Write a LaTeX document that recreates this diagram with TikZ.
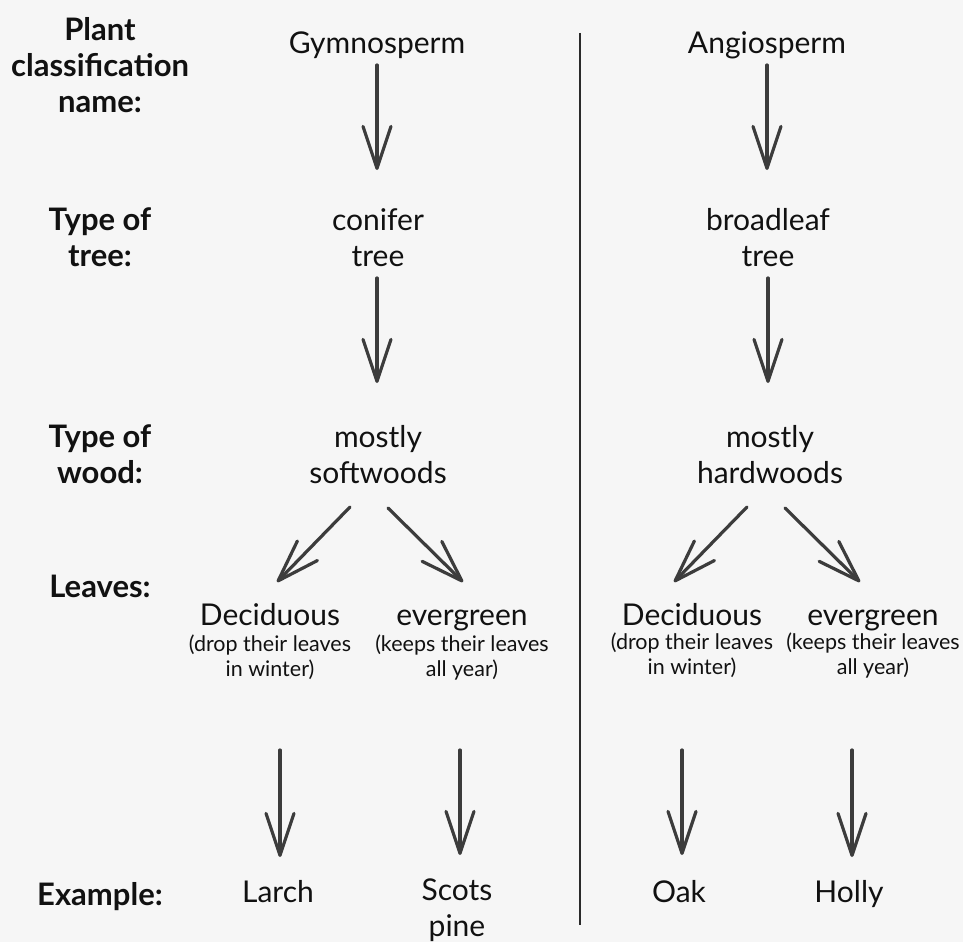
\documentclass[tikz,border=0pt]{standalone}
\usepackage{fontspec}
\setmainfont{Lato}
\usetikzlibrary{arrows.meta,calc}
\definecolor{bg}{HTML}{F6F6F6}
\definecolor{ink}{HTML}{111111}
\definecolor{arrowc}{HTML}{3C3C3C}
\definecolor{divider}{HTML}{2A2A2A}
\begin{document}
\begin{tikzpicture}[x=1pt,y=-1pt,
  txt/.style={font=\fontsize{30}{36}\selectfont, text=ink, align=center, inner sep=0pt, anchor=base},
  lbl/.style={font=\fontsize{31}{36}\selectfont\bfseries, text=ink, align=center, inner sep=0pt, anchor=base},
  note/.style={font=\fontsize{21.5}{25}\selectfont, text=ink, align=center, inner sep=0pt, anchor=base},
  arr/.style={draw=arrowc, line width=3.2pt, line cap=round,
    -{Straight Barb[length=42pt,width=28pt,round]}}]
\fill[bg] (0,0) rectangle (963,942);
\useasboundingbox (0,0) rectangle (963,942);
% row labels (anchored at the baseline of the last line)
\node[lbl] (lab1) at (100,112) {Plant\\classification\\name:};
\node[lbl] (lab2) at (100,266) {Type of\\tree:};
\node[lbl] (lab3) at (100,483) {Type of\\wood:};
\node[lbl] (lab4) at (100,597) {Leaves:};
\node[lbl] (lab5) at (100,905) {Example:};
% left column
\node[txt] (gym) at (377,54) {Gymnosperm};
\node[txt] (con) at (378,266) {conifer\\tree};
\node[txt] (sw) at (378,483) {mostly\\softwoods};
\node[txt] (d1) at (270,625) {Deciduous};
\node[note] (d1n) at (270,676) {(drop their leaves\\in winter)};
\node[txt] (e1) at (462,625) {evergreen};
\node[note] (e1n) at (462,676) {(keeps their leaves\\all year)};
\node[txt] (larch) at (278,902) {Larch};
\node[txt] (scots) at (457,936) {Scots\\pine};
% right column
\node[txt] (ang) at (767,54) {Angiosperm};
\node[txt] (brd) at (768,266) {broadleaf\\tree};
\node[txt] (hw) at (770,483) {mostly\\hardwoods};
\node[txt] (d2) at (692,625) {Deciduous};
\node[note] (d2n) at (692,674) {(drop their leaves\\in winter)};
\node[txt] (e2) at (873,625) {evergreen};
\node[note] (e2n) at (873,674) {(keeps their leaves\\all year)};
\node[txt] (oak) at (679,902) {Oak};
\node[txt] (holly) at (849,902) {Holly};
% divider
\coordinate (divtop) at (580,33);
\coordinate (divbot) at (580,925);
\draw[divider, line width=2pt] (divtop) -- (divbot);
% arrows
\draw[arr] ($(gym.base)+(0,11)$) -- ($(con.base)+(-1,-96)$);
\draw[arr] ($(con.base)+(-1,12)$) -- ($(sw.base)+(-1,-100)$);
\draw[arr] ($(ang.base)+(0,11)$) -- ($(brd.base)+(-1,-96)$);
\draw[arr] ($(brd.base)+(0,12)$) -- ($(hw.base)+(-2,-100)$);
\draw[arr] ($(sw.base)+(-28,24)$) -- ($(d1.base)+(7,-43)$);
\draw[arr] ($(sw.base)+(10,25)$) -- ($(e1.base)+(1,-43)$);
\draw[arr] ($(hw.base)+(-23,24)$) -- ($(d2.base)+(-18,-43)$);
\draw[arr] ($(hw.base)+(15,25)$) -- ($(e2.base)+(-13,-43)$);
\draw[arr] ($(d1n.base)+(10,74)$) -- ($(larch.base)+(2,-45)$);
\draw[arr] ($(e1n.base)+(-2,74)$) -- ($(scots.base)+(3,-81)$);
\draw[arr] ($(d2n.base)+(-10,76)$) -- ($(oak.base)+(3,-47)$);
\draw[arr] ($(e2n.base)+(-21,76)$) -- ($(holly.base)+(3,-45)$);
\end{tikzpicture}
\end{document}
